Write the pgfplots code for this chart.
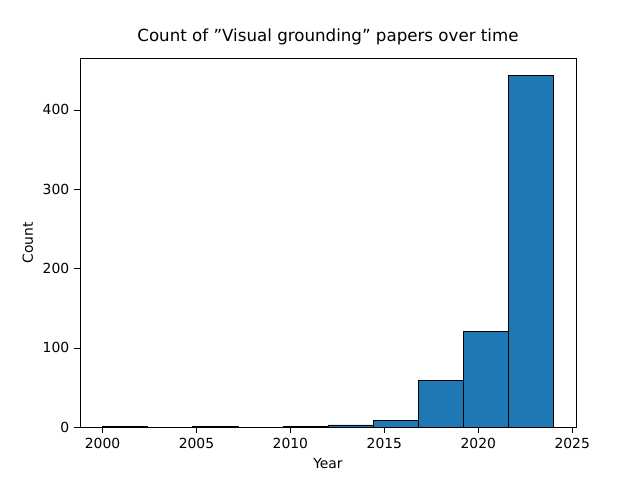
\documentclass[border=0pt]{standalone}
\usepackage{pgfplots}
\pgfplotsset{compat=1.18}
\usepackage{fontspec}
\setmainfont{DejaVu Sans}
\definecolor{mplblue}{HTML}{1F77B4}
\begin{document}
\begin{tikzpicture}
\begin{axis}[
  scale only axis, width=357pt, height=265.7pt,
  xmin=1998.8, xmax=2025.2, ymin=0, ymax=465,
  xtick={2000,2005,...,2025}, ytick={0,100,...,400},
  /pgf/number format/assume math mode=true,
  /pgf/number format/1000 sep={},
  tick label style={font=\fontsize{10}{12}\selectfont},
  label style={font=\fontsize{10}{12}\selectfont},
  xlabel={Year}, ylabel={Count},
  title={Count of "Visual grounding" papers over time},
  title style={font=\fontsize{12}{14}\selectfont},
  tick align=outside, axis line style={black}, tick style={black},
  xtick pos=bottom, ytick pos=left,
]
\addplot[ybar interval, fill=mplblue, draw=black] coordinates {
(2000,1) (2002.4,0) (2004.8,1) (2007.2,0) (2009.6,1) (2012,3) (2014.4,9) (2016.8,59) (2019.2,121) (2021.6,443) (2024,443)};
\end{axis}
\path (current axis.south west) ++(-57.6pt,-38.2pt) coordinate (a);
\path (current axis.north east) ++(46.1pt,41.8pt) coordinate (b);
\useasboundingbox (a) rectangle (b);
\end{tikzpicture}
\end{document}
